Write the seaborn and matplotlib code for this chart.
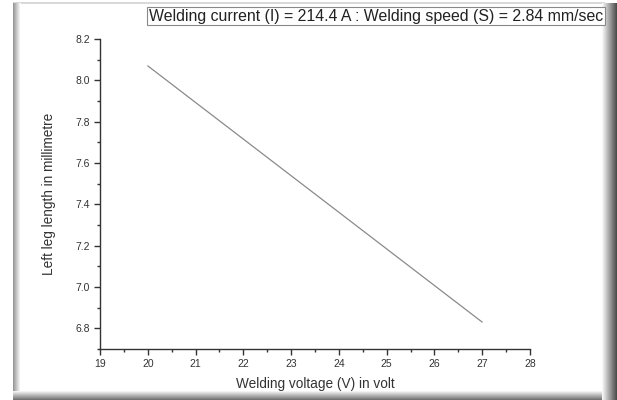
import matplotlib
matplotlib.use("Agg")
import matplotlib.pyplot as plt
from matplotlib.patches import Rectangle
from matplotlib.ticker import MultipleLocator
import seaborn as sns
import pandas as pd
import numpy as np

# Data
voltage = [20, 27]
left_leg = [8.07, 6.83]
title_text = "Welding current (I) = 214.4 A : Welding speed (S) = 2.84 mm/sec"
xlabel = "Welding voltage (V) in volt"
ylabel = "Left leg length in millimetre"

sns.set_style("ticks")
plt.rcParams['font.family'] = ['Liberation Sans', 'DejaVu Sans']

W, H = 617, 400
fig = plt.figure(figsize=(W / 100, H / 100), dpi=100)
fig.patch.set_facecolor("white")

ax = fig.add_axes([100 / W, 1 - 349 / H, 430 / W, 310 / H])
df = pd.DataFrame({"V": voltage, "L": left_leg})
sns.lineplot(data=df, x="V", y="L", ax=ax, color="#8a8a8a", linewidth=0.9)

ax.set_xlim(19, 28)
ax.set_ylim(6.7, 8.2)
ax.xaxis.set_minor_locator(MultipleLocator(0.5))
ax.yaxis.set_minor_locator(MultipleLocator(0.1))
yt = np.round(np.arange(6.8, 8.21, 0.2), 1)
ax.set_yticks(yt)
ax.set_yticklabels([f"{v:.1f}" for v in yt])
ax.set_xticks(range(19, 29))
ax.set_xticklabels([str(v) for v in range(19, 29)])

for s in ["top", "right"]:
    ax.spines[s].set_visible(False)
for s in ["left", "bottom"]:
    ax.spines[s].set_color("#333333")
    ax.spines[s].set_linewidth(1.0)
ax.tick_params(which="major", direction="out", length=4, width=1, color="#333333",
               labelsize=7.5, labelcolor="#333333", pad=3)
ax.tick_params(which="minor", direction="out", length=2.5, width=1, color="#333333")

ax.set_xlabel(xlabel, fontsize=9.8, color="#333333", labelpad=6)
ax.set_ylabel(ylabel, fontsize=9.8, color="#333333", labelpad=14)

# Title box
fig.text(149 / W, 1 - 16 / H, title_text, fontsize=11.4, color="#222222",
         va="center", ha="left", zorder=12,
         bbox=dict(boxstyle="square,pad=0.12", facecolor="white", edgecolor="#888888", linewidth=0.8))

# Frame with shaded edges
def strip(x0, y0, w, h, g):
    fig.add_artist(Rectangle((x0 / W, 1 - (y0 + h) / H), w / W, h / H,
                             transform=fig.transFigure, facecolor=(g, g, g),
                             edgecolor="none", zorder=10))

# top thin line
strip(13, 2, 592, 1.5, 0.85)
# left gradient
for i, g in enumerate(np.linspace(0.6, 1.0, 8)):
    strip(13 + i, 3, 1, 390, g)
# bottom gradient
for i, g in enumerate(np.linspace(0.95, 0.45, 9)):
    strip(13, 391 + i, 604, 1.2, g)
# right gradient
for i, g in enumerate(np.linspace(0.97, 0.3, 15)):
    strip(602 + i, 3, 1.2, 397, g)

fig.savefig("out.png", dpi=100, facecolor="white")
